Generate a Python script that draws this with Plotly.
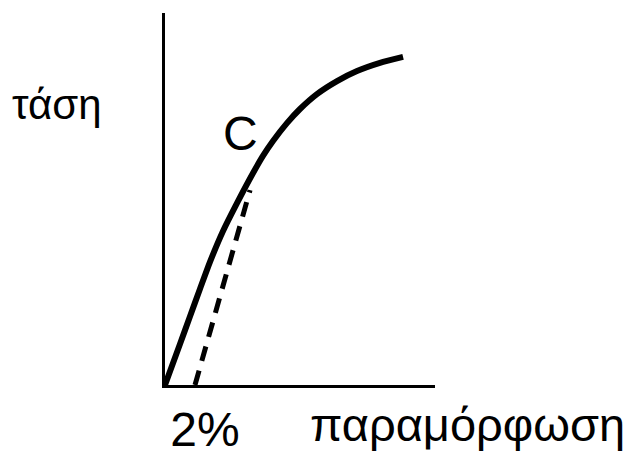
import plotly.graph_objects as go

# data (strain in %, stress in arbitrary units)
curve_strain = [0, 1.0, 1.67, 2.33, 3.0, 3.87, 4.8, 5.87, 6.53, 7.2, 8.13, 9.0,
                10.13, 11.47, 12.8, 14.33, 15.87]
curve_stress = [0, 11.0, 18.5, 25.8, 33.1, 41.4, 48.9, 57.0, 61.6, 65.6, 70.4, 74.2,
                78.2, 81.7, 84.4, 86.6, 88.2]
offset_strain = [2, 5.67]
offset_stress = [0, 52.4]
tick_vals = [2]
tick_text = ["2%"]
point_label = "C"
point_xy = (5.0, 67.7)
x_title = "παραμόρφωση"
y_title = "τάση"

W, H = 636, 457
FONT = "Liberation Sans"

fig = go.Figure()
fig.add_trace(go.Scatter(x=curve_strain, y=curve_stress, mode="lines",
                         line=dict(color="black", width=6, shape="spline", smoothing=0.6),
                         showlegend=False, hoverinfo="skip"))
fig.add_trace(go.Scatter(x=offset_strain, y=offset_stress, mode="lines",
                         line=dict(color="black", width=5, dash="15px,10px"),
                         showlegend=False, hoverinfo="skip"))

fig.add_annotation(x=point_xy[0], y=point_xy[1], xref="x", yref="y", text=point_label,
                   showarrow=False, font=dict(family=FONT, size=48, color="black"))
fig.add_annotation(x=468 / W, y=1 - 424 / H, xref="paper", yref="paper", text=x_title,
                   showarrow=False, xanchor="center", yanchor="middle",
                   font=dict(family=FONT, size=47, color="black"))
fig.add_annotation(x=57 / W, y=1 - 104 / H, xref="paper", yref="paper", text=y_title,
                   showarrow=False, xanchor="center", yanchor="middle",
                   font=dict(family=FONT, size=42, color="black"))

fig.update_layout(
    width=W, height=H,
    margin=dict(l=0, r=0, t=0, b=0),
    paper_bgcolor="white", plot_bgcolor="white",
    xaxis=dict(domain=[165 / W, 435 / W], range=[0, 18], showgrid=False, zeroline=False,
               showline=True, linecolor="black", linewidth=3, ticks="", ticklen=0,
               tickvals=tick_vals, ticktext=tick_text, ticklabelshift=10, ticklabelstandoff=0,
               tickfont=dict(family=FONT, size=48, color="black")),
    yaxis=dict(domain=[1 - 385 / H, 1 - 13 / H], range=[0, 100], showgrid=False, zeroline=False,
               showline=True, linecolor="black", linewidth=3, showticklabels=False, ticks=""),
)

fig.write_html("out.html", config={"displayModeBar": False},
               post_script="document.body.style.margin='0';")
